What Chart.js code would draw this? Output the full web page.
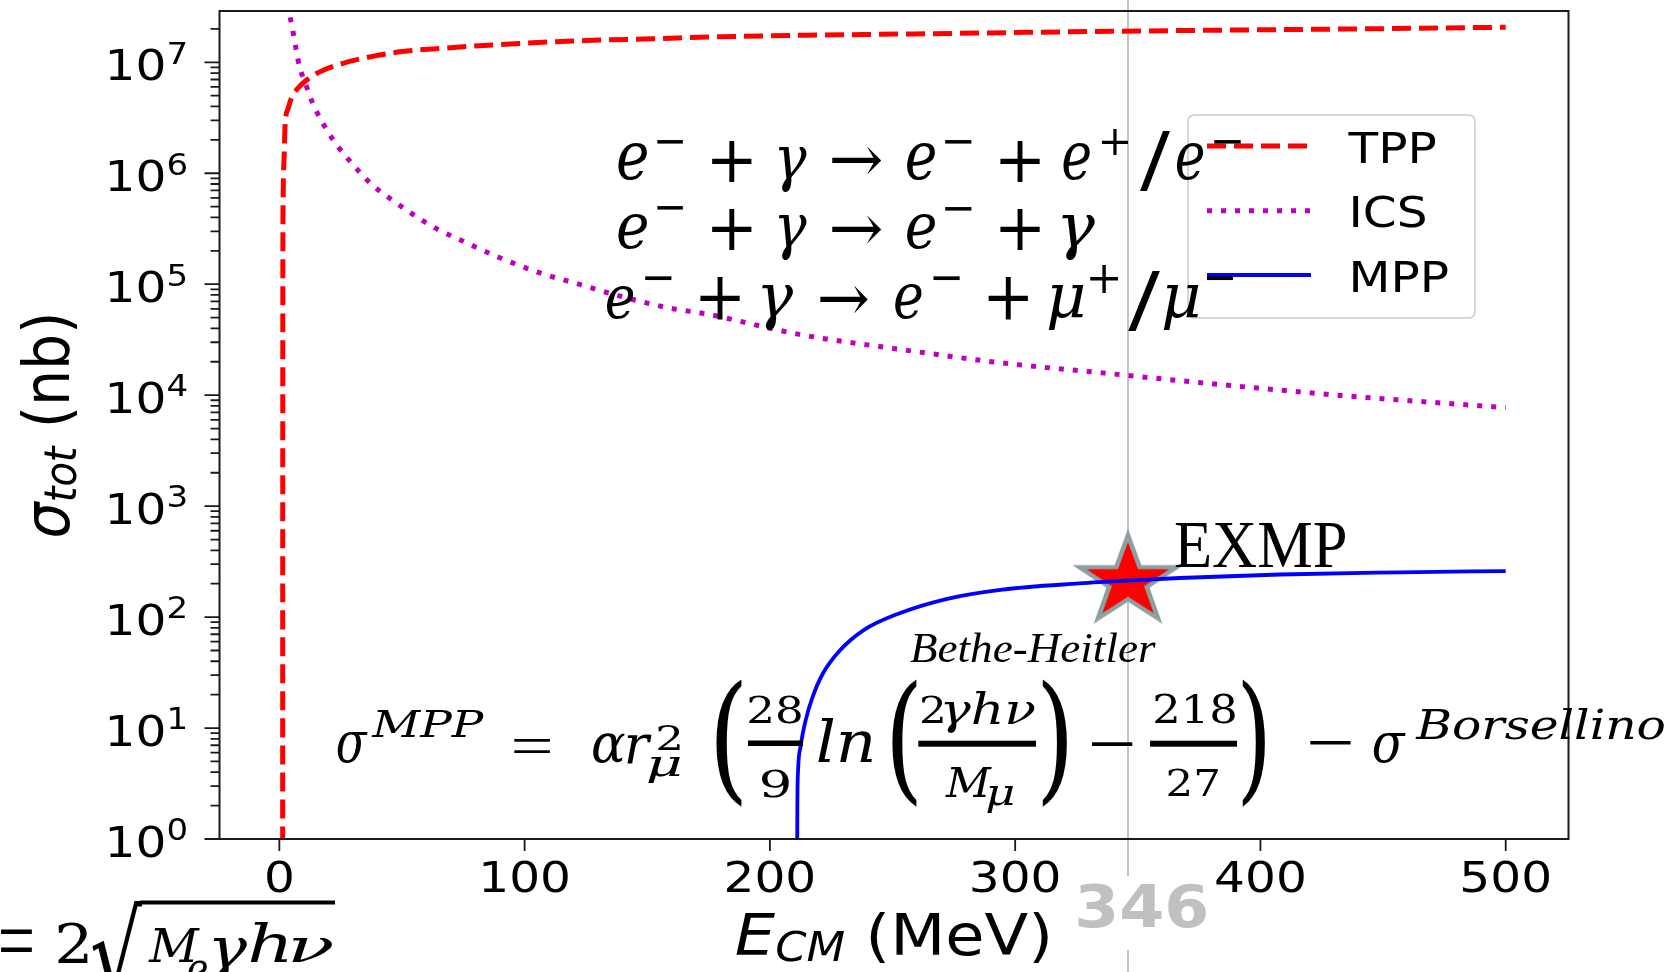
<!DOCTYPE html>
<html>
<head>
<meta charset="utf-8">
<script src="https://cdn.jsdelivr.net/npm/chart.js@4.4.0/dist/chart.umd.min.js"></script>
<style>
  html, body { margin: 0; padding: 0; background: #ffffff; overflow: hidden; }
  canvas { display: block; }
</style>
</head>
<body>
<canvas id="xsec" width="1679" height="972"></canvas>
<script>
// Total cross sections of e- + gamma processes versus centre-of-mass energy (MeV, nb)

// Triplet pair production  e- + gamma -> e- + e+ / e-
const tppEnergy = [1.35, 1.38, 1.42, 1.55, 2.0, 2.3, 3.6, 5, 7, 11, 16.5, 26, 37, 50, 71, 98, 125, 152, 180, 220, 266, 320, 375, 440, 500];
const tppSigma  = [0.5, 1e3, 1e5, 6e5, 1.5e6, 2.6e6, 3.85e6, 4.8e6, 5.65e6, 6.9e6, 8.2e6, 9.8e6, 1.12e7, 1.25e7, 1.36e7, 1.48e7, 1.57e7, 1.63e7, 1.70e7, 1.76e7, 1.81e7, 1.88e7, 1.94e7, 2.0e7, 2.07e7];

// Inverse Compton scattering  e- + gamma -> e- + gamma
const icsEnergy = [3.7, 4.3, 5.7, 7.0, 8.4, 10.4, 12.5, 15.2, 19.3, 23.3, 30.1, 36.9, 45.7, 54.6, 64.7, 74.9, 89.9, 106, 122.5, 139, 159, 174, 212, 253, 294, 334, 375, 435, 500];
const icsSigma  = [3.4e7, 2.67e7, 1.82e7, 1.25e7, 8.8e6, 6.7e6, 4.9e6, 3.6e6, 2.47e6, 1.81e6, 1.19e6, 8.2e5, 5.8e5, 4.24e5, 3.11e5, 2.44e5, 1.73e5, 1.27e5, 9.95e4, 7.8e4, 6.1e4, 5.4e4, 3.53e4, 2.59e4, 1.96e4, 1.6e4, 1.30e4, 9.85e3, 7.72e3];

// Muon pair production  e- + gamma -> e- + mu+ / mu-
const mppEnergy = [211.1, 211.2, 211.5, 212.5, 214.6, 217.4, 221.6, 228.5, 238.1, 251.8, 272.3, 294, 326, 351, 367, 408, 457, 500];
const mppSigma  = [0.5, 2, 4.2, 6.8, 11.8, 19, 31, 50, 76, 106, 146, 176, 201, 216, 225, 242, 253, 260];

const seriesNames = ['TPP', 'ICS', 'MPP'];

// EXMP working point
const exmpEnergy = 346;
const exmpSigma = 210;
const exmpLabel = 'EXMP';

// Axis ticks
const xTickValues = [0, 100, 200, 300, 400, 500];
const yTickExponents = [0, 1, 2, 3, 4, 5, 6, 7];

const zip = (xs, ys) => xs.map((x, i) => ({ x: x, y: ys[i] }));

// ---- styling helpers ----
const STRETCH = 1.12;              // horizontal stretch of the plot lettering
const SANS = '"DejaVu Sans"';
const TICK_FONT = '43.4px ' + SANS;
const SUP_FONT = '30.4px ' + SANS;
const LABEL_PX = 57;

const MATH = {
  mi: 'italic 80px "DejaVu Serif"',
  mr: '80px "DejaVu Serif"',
  ti: 'italic 60px "Liberation Serif"',
  tr: '60px "Liberation Serif"',
  sb: 'bold 60px "DejaVu Sans"'
};

// Fit a string's inked box into [x0,y0,x1,y1]
function fitText(ctx, s, font, box, color) {
  const [x0, y0, x1, y1] = box;
  ctx.save();
  ctx.font = font;
  ctx.textAlign = 'left';
  ctx.textBaseline = 'alphabetic';
  const m = ctx.measureText(s);
  const w = m.actualBoundingBoxLeft + m.actualBoundingBoxRight;
  const h = m.actualBoundingBoxAscent + m.actualBoundingBoxDescent;
  ctx.translate(x0, y0);
  ctx.scale((x1 - x0) / w, (y1 - y0) / h);
  ctx.fillStyle = color || '#000000';
  ctx.fillText(s, m.actualBoundingBoxLeft, m.actualBoundingBoxAscent);
  ctx.restore();
}

// Text with the horizontal stretch, anchored at x (left/center/right)
function wideText(ctx, s, font, x, y, align) {
  ctx.save();
  ctx.font = font;
  const w = ctx.measureText(s).width * STRETCH;
  let left = x;
  if (align === 'center') left = x - w / 2;
  else if (align === 'right') left = x - w;
  ctx.translate(left, y);
  ctx.scale(STRETCH, 1);
  ctx.textAlign = 'left';
  ctx.textBaseline = 'alphabetic';
  ctx.fillStyle = '#000000';
  ctx.fillText(s, 0, 0);
  ctx.restore();
  return w;
}

// Mixed-font label drawn along a baseline, centred on 0
function drawParts(ctx, parts) {
  let total = 0;
  parts.forEach(p => { ctx.font = p.font; p.w = ctx.measureText(p.t).width; total += p.w; });
  let x = -total / 2;
  parts.forEach(p => { ctx.font = p.font; ctx.fillText(p.t, x, p.dy || 0); x += p.w; });
}

// Reaction lines
const reactionTokens = [
  ['e', 'mi', 618, 143.3, 647, 180], ['\u2212', 'mr', 657, 139.5, 683, 144],
  ['+', 'mr', 711.7, 140, 751.7, 181.7], ['\u03B3', 'mi', 778.3, 146.7, 806.7, 192.7],
  ['\u2192', 'mr', 831.7, 146.7, 881.7, 175], ['e', 'mi', 906.7, 143.3, 935, 180],
  ['\u2212', 'mr', 945, 139.5, 971.7, 144], ['+', 'mr', 1000, 140, 1040, 181.7],
  ['e', 'mi', 1063.3, 143.3, 1090, 180], ['+', 'mr', 1101.7, 128.3, 1128.3, 155],
  ['/', 'mr', 1140, 130, 1170, 190.7], ['e', 'mi', 1176.7, 143.3, 1203.3, 180],
  ['\u2212', 'mr', 1214, 139.5, 1241, 144],

  ['e', 'mi', 618, 213.3, 647, 248.3], ['\u2212', 'mr', 657, 206, 683, 210.5],
  ['+', 'mr', 711.7, 208.3, 751.7, 250], ['\u03B3', 'mi', 778.3, 215, 806.7, 260],
  ['\u2192', 'mr', 831.7, 215, 881.7, 243.3], ['e', 'mi', 906.7, 213.3, 935, 248.3],
  ['\u2212', 'mr', 945, 206.5, 971.7, 211], ['+', 'mr', 1000, 208.3, 1040, 250],
  ['\u03B3', 'mi', 1061.7, 215, 1095, 260],

  ['e', 'mi', 606.7, 285, 633.3, 318.3], ['\u2212', 'mr', 645, 276, 671.7, 280.7],
  ['+', 'mr', 700, 276.7, 740, 320], ['\u03B3', 'mi', 761.7, 285, 793.3, 330],
  ['\u2192', 'mr', 820, 285, 868.3, 313.3], ['e', 'mi', 895, 283.3, 921.7, 318.3],
  ['\u2212', 'mr', 933.3, 276, 960, 280.7], ['+', 'mr', 988.3, 276.7, 1028.3, 320],
  ['\u03BC', 'mi', 1048.3, 285, 1083.3, 330], ['+', 'mr', 1090, 265, 1118.3, 293.3],
  ['/', 'mr', 1128.3, 268.3, 1160, 330], ['\u03BC', 'mi', 1163.3, 285, 1198.3, 330],
  ['\u2212', 'mr', 1206.7, 276, 1233.3, 280.7]
];

// Bethe-Heitler muon pair formula
const formulaTokens = [
  ['\u03C3', 'mi', 337, 732, 368, 763], ['MPP', 'mi', 371, 710, 484, 737],
  ['=', 'tr', 513, 738.5, 550, 753],
  ['\u03B1', 'mi', 593, 733, 625, 763], ['r', 'mi', 627, 733, 652, 763],
  ['2', 'mr', 658, 725, 680, 750], ['\u03BC', 'mi', 648, 757, 680, 783],
  ['(', 'mr', 716, 678, 742, 808],
  ['28', 'mr', 749, 695, 801, 723], ['9', 'mr', 762, 768, 789, 797],
  ['ln', 'mi', 818, 717, 872, 762],
  ['(', 'mr', 892, 678, 917, 808],
  ['2', 'mr', 921.7, 695, 943, 723.3], ['\u03B3h\u03BD', 'mi', 944, 690, 1035, 733],
  ['M', 'mi', 945, 767, 992, 797], ['\u03BC', 'mi', 987, 785, 1013, 813],
  [')', 'mr', 1042, 678, 1067, 808],
  ['\u2212', 'mr', 1092, 742, 1133, 747],
  ['218', 'mr', 1155, 693.3, 1235, 723.3], ['27', 'mr', 1168.3, 768.3, 1218.3, 796.7],
  [')', 'mr', 1242, 678, 1265, 808],
  ['\u2212', 'mr', 1310, 741, 1351, 745.5],
  ['\u03C3', 'mi', 1373, 733, 1406, 763], ['Borsellino', 'mi', 1415, 707, 1664, 740]
];
const formulaBars = [[748, 740.5, 803, 746], [918.3, 740.7, 1036, 746.7], [1150, 740.7, 1237, 746.7]];

// Centre-of-mass energy relation
const ecmTokens = [
  ['=', 'tr', 0, 930, 32, 952], ['2', 'mr', 58, 922, 88, 963],
  ['\u221A', 'mr', 92, 901, 142, 1000],
  ['M', 'mi', 148, 928, 200, 962], ['e', 'mi', 188, 960, 207, 985],
  ['\u03B3', 'mi', 213, 937, 247, 980], ['h', 'mi', 250, 922, 288, 962],
  ['\u03BD', 'mi', 292, 937, 333, 962]
];
const ecmBars = [[140, 900.5, 335, 904.5]];

// Five-pointed star marker
function makeStar() {
  const c = document.createElement('canvas');
  c.width = 130; c.height = 120;
  const g = c.getContext('2d');
  g.translate(65, 60);
  g.scale(1.11, 1);
  g.beginPath();
  for (let i = 0; i < 10; i++) {
    const r = i % 2 ? 17.8 : 46;
    const a = -Math.PI / 2 + i * Math.PI / 5;
    g.lineTo(r * Math.cos(a), r * Math.sin(a));
  }
  g.closePath();
  g.fillStyle = '#ff0000';
  g.fill();
  g.lineJoin = 'miter';
  g.miterLimit = 10;
  g.lineWidth = 4.2;
  g.strokeStyle = '#8ca0a2';
  g.stroke();
  return c;
}

const decor = {
  id: 'decor',
  beforeDatasetsDraw(chart) {
    const ctx = chart.ctx;
    const px = chart.scales.x.getPixelForValue(exmpEnergy);
    ctx.save();
    ctx.strokeStyle = '#c4c4c4';
    ctx.lineWidth = 2;
    ctx.beginPath();
    ctx.moveTo(px, 0);
    ctx.lineTo(px, chart.height);
    ctx.stroke();
    ctx.restore();
  },
  afterDatasetsDraw(chart) {
    const ctx = chart.ctx;
    const area = chart.chartArea;
    const xs = chart.scales.x, ys = chart.scales.y;

    // frame
    ctx.save();
    ctx.strokeStyle = '#1a1a1a';
    ctx.lineWidth = 2;
    ctx.strokeRect(area.left, area.top, area.right - area.left, area.bottom - area.top);

    // y ticks (decades + minor), x ticks
    ctx.lineWidth = 1.8;
    ctx.beginPath();
    yTickExponents.forEach(n => {
      for (let k = 1; k <= 9; k++) {
        const v = k * Math.pow(10, n);
        if (v > ys.max) break;
        const p = ys.getPixelForValue(v);
        ctx.moveTo(area.left - (k === 1 ? 15 : 9), p);
        ctx.lineTo(area.left, p);
      }
    });
    xTickValues.forEach(v => {
      const p = xs.getPixelForValue(v);
      ctx.moveTo(p, area.bottom);
      ctx.lineTo(p, area.bottom + 12);
    });
    ctx.stroke();
    ctx.restore();

    // tick labels
    const labelRight = area.left - 31.4;
    yTickExponents.forEach(n => {
      const p = ys.getPixelForValue(Math.pow(10, n));
      const ws = wideText(ctx, String(n), SUP_FONT, labelRight, p + 1.3, 'right');
      wideText(ctx, '10', TICK_FONT, labelRight - ws, p + 17.6, 'right');
    });
    xTickValues.forEach(v => {
      wideText(ctx, String(v), TICK_FONT, xs.getPixelForValue(v), area.bottom + 53, 'center');
    });

    // axis titles
    ctx.save();
    ctx.fillStyle = '#000000';
    ctx.textBaseline = 'alphabetic';
    ctx.textAlign = 'left';
    ctx.translate((area.left + area.right) / 2, 955);
    ctx.scale(STRETCH, 1);
    drawParts(ctx, [
      { t: 'E', font: 'italic ' + LABEL_PX + 'px ' + SANS },
      { t: 'CM', font: 'italic ' + Math.round(LABEL_PX * 0.7) + 'px ' + SANS, dy: 6 },
      { t: ' (MeV)', font: LABEL_PX + 'px ' + SANS }
    ]);
    ctx.restore();

    ctx.save();
    ctx.fillStyle = '#000000';
    ctx.textBaseline = 'alphabetic';
    ctx.textAlign = 'left';
    ctx.translate(69, (area.top + area.bottom) / 2);
    ctx.scale(STRETCH, 1);
    ctx.rotate(-Math.PI / 2);
    drawParts(ctx, [
      { t: '\u03C3', font: 'italic ' + LABEL_PX + 'px ' + SANS },
      { t: 'tot', font: 'italic ' + Math.round(LABEL_PX * 0.7) + 'px ' + SANS, dy: 6 },
      { t: ' (nb)', font: LABEL_PX + 'px ' + SANS }
    ]);
    ctx.restore();

    // legend
    ctx.save();
    const lb = { x: 1188, y: 115, w: 287, h: 203, r: 6 };
    ctx.beginPath();
    ctx.roundRect(lb.x, lb.y, lb.w, lb.h, lb.r);
    ctx.fillStyle = 'rgba(255,255,255,0.8)';
    ctx.fill();
    ctx.strokeStyle = '#cccccc';
    ctx.lineWidth = 1.5;
    ctx.stroke();
    const rows = [146, 210.7, 275];
    chart.data.datasets.slice(0, 3).forEach((ds, i) => {
      ctx.save();
      ctx.strokeStyle = ds.borderColor;
      ctx.lineWidth = ds.borderWidth;
      ctx.setLineDash(ds.borderDash || []);
      ctx.lineCap = 'butt';
      ctx.beginPath();
      ctx.moveTo(1207, rows[i]);
      ctx.lineTo(1311, rows[i]);
      ctx.stroke();
      ctx.restore();
      wideText(ctx, ds.label, TICK_FONT, 1348.5, rows[i] + 16.5, 'left');
    });
    ctx.restore();

    // energy annotation below the axis
    const ex = xs.getPixelForValue(exmpEnergy);
    ctx.save();
    ctx.fillStyle = '#ffffff';
    ctx.fillRect(ex - 52, 876, 133, 74);
    ctx.restore();
    fitText(ctx, String(exmpEnergy), MATH.sb, [ex - 49.5, 883, ex + 78.5, 928], '#c0c0c0');

    // star label and formula caption
    fitText(ctx, exmpLabel, MATH.tr, [1175, 523.3, 1345, 566.7]);
    fitText(ctx, 'Bethe-Heitler', MATH.ti, [910, 634, 1156, 663]);

    // equations
    [reactionTokens, formulaTokens, ecmTokens].forEach(list => {
      list.forEach(t => fitText(ctx, t[0], MATH[t[1]], [t[2], t[3], t[4], t[5]]));
    });
    ctx.save();
    ctx.fillStyle = '#000000';
    formulaBars.concat(ecmBars).forEach(b => ctx.fillRect(b[0], b[1], b[2] - b[0], b[3] - b[1]));
    ctx.restore();
  }
};

new Chart(document.getElementById('xsec'), {
  type: 'line',
  data: {
    datasets: [
      {
        label: seriesNames[0], data: zip(tppEnergy, tppSigma),
        borderColor: '#ff0000', borderWidth: 5, borderDash: [19, 8],
        pointRadius: 0, fill: false, cubicInterpolationMode: 'monotone'
      },
      {
        label: seriesNames[1], data: zip(icsEnergy, icsSigma),
        borderColor: '#bf00bf', borderWidth: 5, borderDash: [5, 9],
        pointRadius: 0, fill: false, cubicInterpolationMode: 'monotone'
      },
      {
        label: seriesNames[2], data: zip(mppEnergy, mppSigma),
        borderColor: '#0000ff', borderWidth: 3.8,
        pointRadius: 0, fill: false, cubicInterpolationMode: 'monotone'
      },
      {
        label: exmpLabel, data: [{ x: exmpEnergy, y: exmpSigma }],
        showLine: false, pointStyle: makeStar(), pointRadius: 10, clip: false
      }
    ]
  },
  options: {
    responsive: false,
    animation: false,
    events: [],
    layout: { padding: { top: 9.3, right: 1679 - 1568.5, left: 0, bottom: 0 } },
    plugins: { legend: { display: false }, tooltip: { enabled: false } },
    scales: {
      x: {
        type: 'linear', min: -24.4, max: 525.6, bounds: 'data',
        grid: { display: false }, border: { display: false }, ticks: { display: false },
        afterFit(s) { s.height = 133; }
      },
      y: {
        type: 'logarithmic', min: 1, max: 2.9e7, bounds: 'data',
        grid: { display: false }, border: { display: false }, ticks: { display: false },
        afterFit(s) { s.width = 219.5; }
      }
    }
  },
  plugins: [decor]
});
</script>
</body>
</html>
